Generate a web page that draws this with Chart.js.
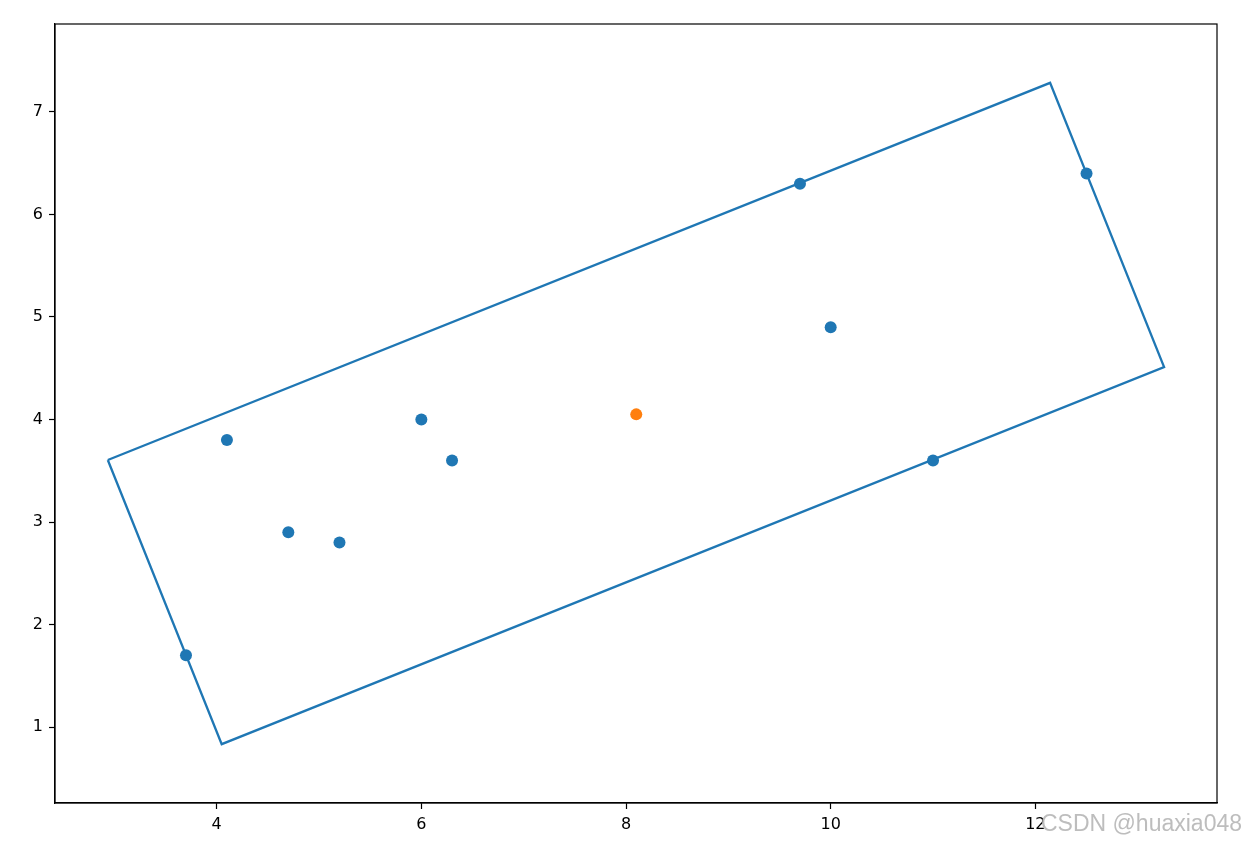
<!DOCTYPE html>
<html>
<head>
<meta charset="utf-8">
<script src="https://cdn.jsdelivr.net/npm/chart.js@4.4.0/dist/chart.umd.min.js"></script>
<style>
html,body{margin:0;padding:0;background:#fff;}
#wrap{width:1246px;height:843px;position:relative;}
</style>
</head>
<body>
<div id="wrap"><canvas id="c" width="1246" height="843"></canvas></div>
<script>
const pointsX = [3.7, 4.1, 4.7, 5.2, 6.0, 6.3, 9.7, 10.0, 11.0, 12.5];
const pointsY = [1.7, 3.8, 2.9, 2.8, 4.0, 3.6, 6.3, 4.9, 3.6, 6.4];
const centerX = [8.1];
const centerY = [4.05];
const rectX = [2.936, 12.144, 13.258, 4.049, 2.936];
const rectY = [3.605, 7.283, 4.512, 0.834, 3.605];
const xTicks = [4, 6, 8, 10, 12];
const yTicks = [1, 2, 3, 4, 5, 6, 7];
const xRange = [2.42, 13.775];
const yRange = [0.26, 7.857];
const watermark = 'CSDN @huaxia048';

const blue = '#1f77b4', orange = '#ff7f0e';
const zip = (xs, ys) => xs.map((x, i) => ({x, y: ys[i]}));

const framePlugin = {
  id: 'frame',
  afterDraw(chart) {
    const {ctx, chartArea: a} = chart;
    ctx.save();
    ctx.strokeStyle = '#000';
    ctx.lineWidth = 1.2;
    ctx.strokeRect(a.left, a.top, a.right - a.left, a.bottom - a.top);
    ctx.font = '23px "Liberation Sans", Arial, sans-serif';
    ctx.fillStyle = 'rgba(185,185,185,0.95)';
    ctx.textAlign = 'right';
    ctx.textBaseline = 'alphabetic';
    ctx.fillText(watermark, 1242, 831);
    ctx.restore();
  }
};

new Chart(document.getElementById('c'), {
  type: 'scatter',
  data: {
    datasets: [
      {
        type: 'line',
        data: zip(rectX, rectY),
        borderColor: blue,
        borderWidth: 2.3,
        pointRadius: 0,
        fill: false,
        tension: 0,
        order: 3
      },
      {
        data: zip(pointsX, pointsY),
        backgroundColor: blue,
        borderColor: blue,
        pointRadius: 6,
        pointBorderWidth: 0,
        order: 2
      },
      {
        data: zip(centerX, centerY),
        backgroundColor: orange,
        borderColor: orange,
        pointRadius: 6,
        pointBorderWidth: 0,
        order: 1
      }
    ]
  },
  options: {
    responsive: false,
    animation: false,
    layout: {padding: {top: 24, right: 29, left: 0, bottom: 0}},
    plugins: {legend: {display: false}, tooltip: {enabled: false}},
    scales: {
      x: {
        type: 'linear',
        min: xRange[0], max: xRange[1],
        afterBuildTicks: s => { s.ticks = xTicks.map(v => ({value: v})); },
        afterFit: s => { s.height = 40; },
        grid: {drawOnChartArea: false, tickLength: 6, color: '#000', tickWidth: 1.2},
        border: {display: true, color: '#000', width: 1.2},
        ticks: {color: '#000', padding: 6, maxRotation: 0, font: {family: '"DejaVu Sans"', size: 16}}
      },
      y: {
        type: 'linear',
        min: yRange[0], max: yRange[1],
        afterBuildTicks: s => { s.ticks = yTicks.map(v => ({value: v})); },
        afterFit: s => { s.width = 55; },
        grid: {drawOnChartArea: false, tickLength: 6, color: '#000', tickWidth: 1.2},
        border: {display: true, color: '#000', width: 1.2},
        ticks: {color: '#000', padding: 6, font: {family: '"DejaVu Sans"', size: 16}}
      }
    }
  },
  plugins: [framePlugin]
});
</script>
</body>
</html>
